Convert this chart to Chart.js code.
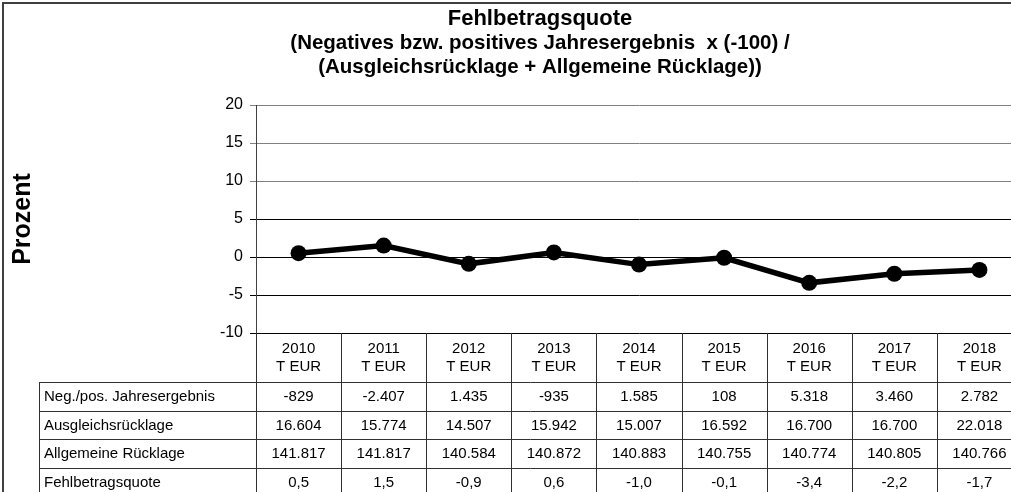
<!DOCTYPE html>
<html>
<head>
<meta charset="utf-8">
<script src="https://cdn.jsdelivr.net/npm/chart.js@4/dist/chart.umd.min.js"></script>
<style>
  html, body { margin: 0; padding: 0; background: #fff; overflow: hidden; }
  #wrap { position: absolute; left: 0; top: 0; width: 1030px; height: 500px; }
</style>
</head>
<body>
<div id="wrap"><canvas id="myChart" width="1030" height="500"></canvas></div>
<script>
// data
var years = ["2010","2011","2012","2013","2014","2015","2016","2017","2018"];
var jahresergebnis = [-829, -2407, 1435, -935, 1585, 108, 5318, 3460, 2782];
var ausgleichsruecklage = [16604, 15774, 14507, 15942, 15007, 16592, 16700, 16700, 22018];
var allgemeineRuecklage = [141817, 141817, 140584, 140872, 140883, 140755, 140774, 140805, 140766];
var fehlbetragsquote = [0.5, 1.5, -0.9, 0.6, -1.0, -0.1, -3.4, -2.2, -1.7];
var yTicks = [-10, -5, 0, 5, 10, 15, 20];

var titleLines = [
    "Fehlbetragsquote",
    "(Negatives bzw. positives Jahresergebnis  x (-100) /",
    "(Ausgleichsrücklage + Allgemeine Rücklage))"
];
var rowLabels = ["Neg./pos. Jahresergebnis","Ausgleichsrücklage","Allgemeine Rücklage","Fehlbetragsquote"];

const FONT = '"Liberation Sans", Arial, sans-serif';

// german number format: 1.234 / 0,5
function fmt_int(v){
    var s = String(Math.abs(v)).replace(/\B(?=(\d{3})+(?!\d))/g, ".");
    return (v < 0 ? "-" : "") + s;
}
function fmt_dec(v){
    return v.toFixed(1).replace(".", ",");
}

var tableRows = [
    jahresergebnis.map(fmt_int),
    ausgleichsruecklage.map(fmt_int),
    allgemeineRuecklage.map(fmt_int),
    fehlbetragsquote.map(fmt_dec)
];

// frame + title + data table below the x axis
const tablePlugin = {
    id: "tablePlugin",
    beforeDraw(chart){
        const ctx = chart.ctx;
        ctx.save();
        ctx.fillStyle = "#fff";
        ctx.fillRect(0, 0, chart.width, chart.height);
        ctx.strokeStyle = "#404040";
        ctx.lineWidth = 2;
        ctx.strokeRect(3, 3, chart.width + 10, chart.height + 10);
        ctx.restore();
    },
    afterDraw(chart){
        const ctx = chart.ctx;
        const xs = chart.scales.x;
        const area = chart.chartArea;
        const colW = (area.right - area.left) / years.length;
        ctx.save();

        // title
        ctx.fillStyle = "#000";
        ctx.textAlign = "center";
        ctx.textBaseline = "middle";
        ctx.font = "bold 22px " + FONT;
        ctx.fillText(titleLines[0], 540, 19);
        ctx.font = "bold 20.5px " + FONT;
        ctx.fillText(titleLines[1], 540, 43);
        ctx.fillText(titleLines[2], 540, 67);

        const headTop = area.bottom;
        const headBottom = 382;
        const rowH = 28.5;
        const labelLeft = 39;
        const bottom = chart.height;

        ctx.strokeStyle = "#303030";
        ctx.lineWidth = 1;
        ctx.beginPath();
        // column lines
        for (var i = 0; i <= years.length; i++){
            var x = Math.round(area.left + i * colW) + 0.5;
            ctx.moveTo(x, headTop);
            ctx.lineTo(x, bottom);
        }
        ctx.moveTo(labelLeft + 0.5, headBottom);
        ctx.lineTo(labelLeft + 0.5, bottom);
        // row lines
        for (var r = 0; r <= rowLabels.length; r++){
            var y = Math.round(headBottom + r * rowH) + 0.5;
            ctx.moveTo(labelLeft, y);
            ctx.lineTo(area.right, y);
        }
        ctx.stroke();

        ctx.font = "15px " + FONT;
        ctx.textAlign = "center";
        years.forEach((yr, idx) => {
            var cx = xs.getPixelForValue(idx);
            ctx.fillText(yr, cx, 349);
            ctx.fillText("T EUR", cx, 367);
        });
        rowLabels.forEach((lab, r) => {
            var cy = headBottom + r * rowH + rowH / 2 + 1;
            ctx.textAlign = "left";
            ctx.fillText(lab, labelLeft + 5, cy);
            ctx.textAlign = "center";
            tableRows[r].forEach((val, idx) => {
                ctx.fillText(val, xs.getPixelForValue(idx), cy);
            });
        });
        ctx.restore();
    }
};

const ctx = document.getElementById("myChart");
new Chart(ctx, {
    type: "line",
    data: {
        labels: years,
        datasets: [{
            label: "Fehlbetragsquote",
            data: fehlbetragsquote,
            borderColor: "#000",
            backgroundColor: "#000",
            borderWidth: 5.5,
            pointRadius: 8,
            pointHoverRadius: 8,
            pointBackgroundColor: "#000",
            pointBorderColor: "#000",
            pointBorderWidth: 0,
            tension: 0
        }]
    },
    options: {
        responsive: false,
        devicePixelRatio: 1,
        animation: false,
        layout: { padding: { left: 0, right: 8, top: 105, bottom: 167 } },
        plugins: {
            legend: { display: false },
            tooltip: { enabled: false },
            title: { display: false }
        },
        scales: {
            x: {
                display: false,
                offset: true
            },
            y: {
                min: -10,
                max: 20,
                afterFit: function(scale){ scale.width = 256; },
                afterBuildTicks: function(scale){
                    scale.ticks = yTicks.map(v => ({ value: v }));
                },
                grid: {
                    color: function(c){ return c.tick && c.tick.value >= 10 ? "#808080" : "#000"; },
                    lineWidth: 1,
                    tickLength: 6
                },
                border: { color: "#404040", width: 1 },
                ticks: {
                    color: "#000",
                    padding: 7,
                    font: { family: FONT, size: 16 }
                },
                title: {
                    display: true,
                    text: "Prozent",
                    color: "#000",
                    font: { family: FONT, size: 25, weight: "bold" },
                    padding: { top: 8, bottom: 0 }
                }
            }
        }
    },
    plugins: [tablePlugin]
});
</script>
</body>
</html>
